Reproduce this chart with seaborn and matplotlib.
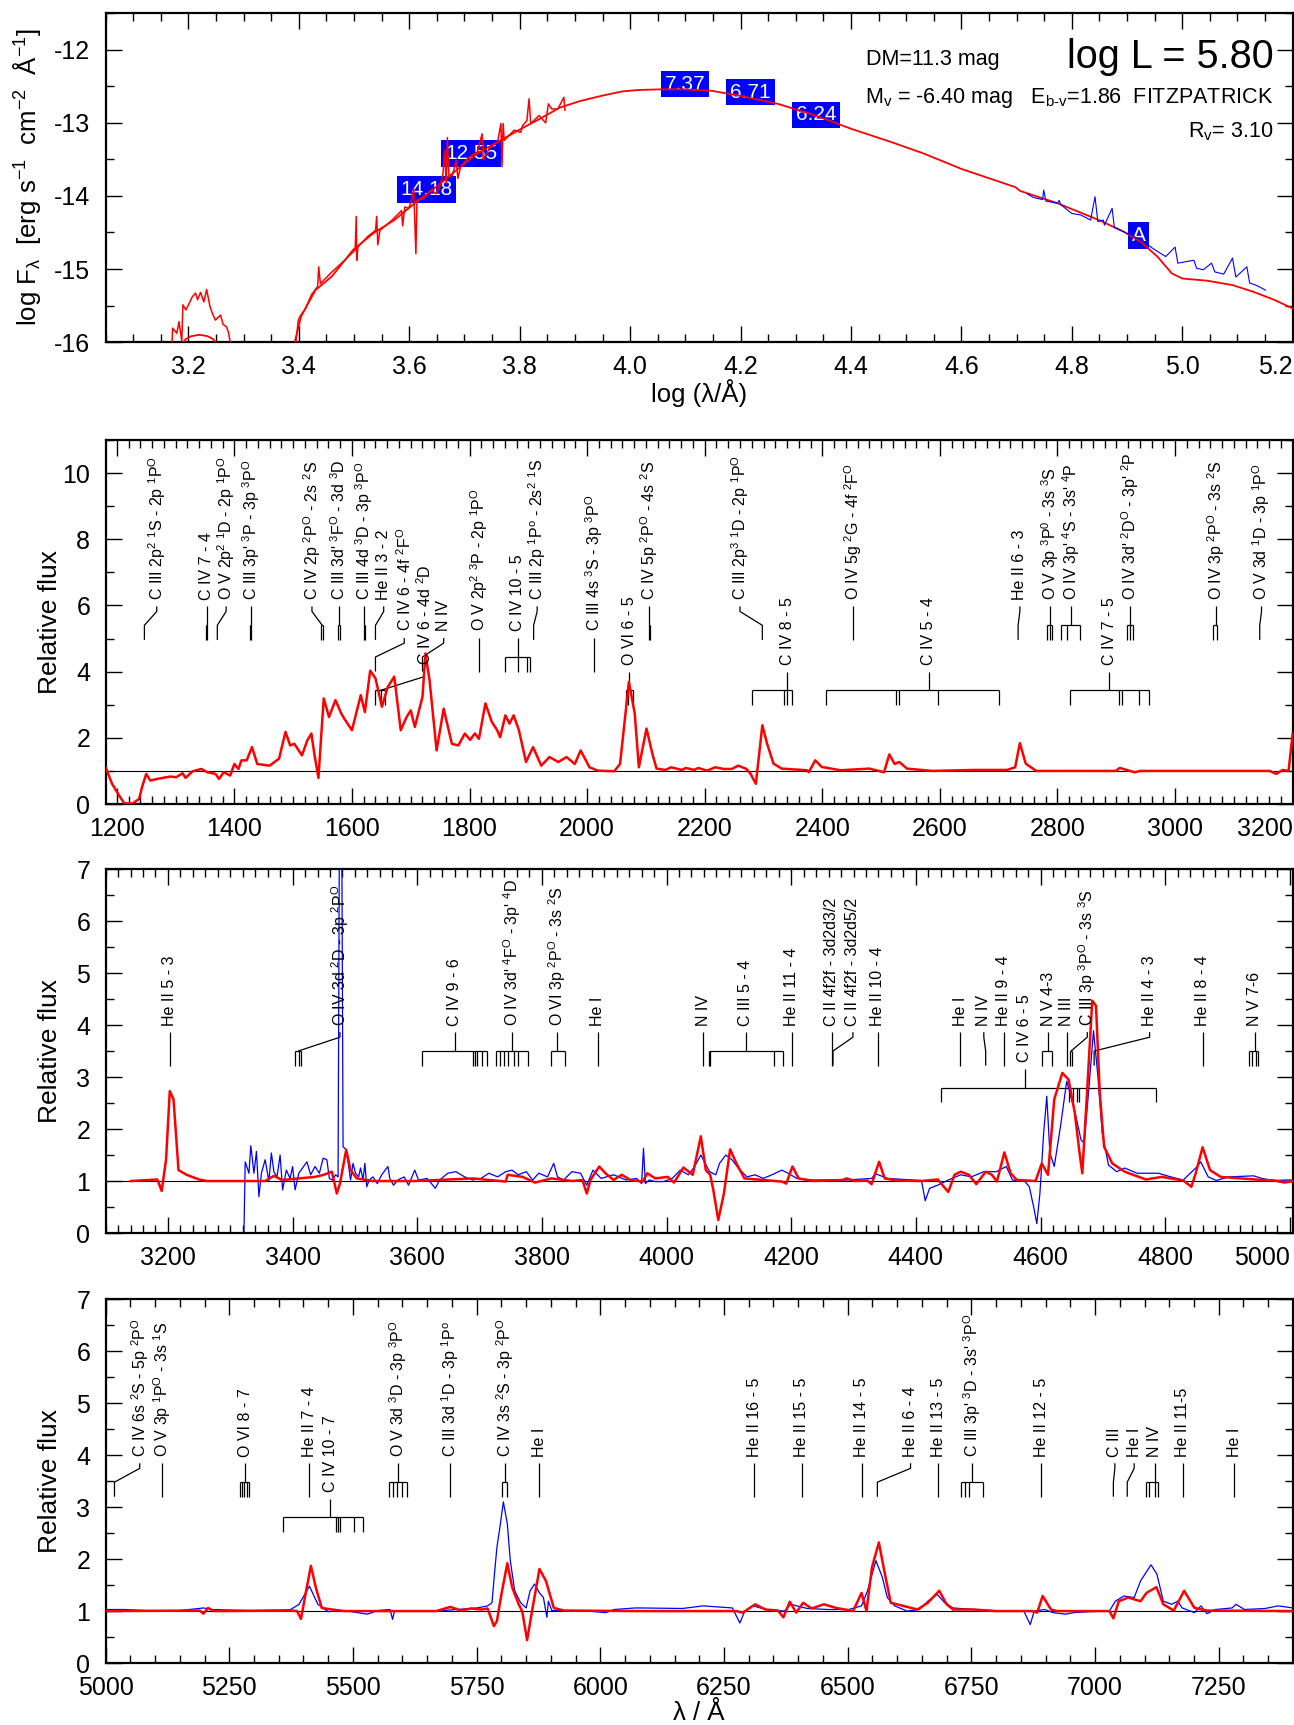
import matplotlib
matplotlib.use("Agg")
import matplotlib.pyplot as plt
import matplotlib.font_manager as fm
from matplotlib.ticker import MultipleLocator, FixedLocator
import seaborn as sns

# ---------------- SED panel (log lambda / log F_lambda) ----------------
sed_model_logw = [3.391, 3.404, 3.430, 3.460, 3.498, 3.535, 3.573, 3.610, 3.648, 3.685,
                  3.723, 3.760, 3.798, 3.835, 3.873, 3.910, 3.948, 3.985, 4.015, 4.060,
                  4.094, 4.147, 4.200, 4.268, 4.336, 4.400, 4.472, 4.532, 4.600, 4.698,
                  4.706, 4.774, 4.849, 4.894, 4.925, 4.955, 4.981, 5.000, 5.045, 5.091,
                  5.128, 5.166, 5.200]
sed_model_logf = [-16.05, -15.65, -15.29, -15.10, -14.74, -14.51, -14.33, -14.10, -13.88, -13.65,
                  -13.42, -13.26, -13.10, -12.95, -12.79, -12.70, -12.63, -12.57, -12.55, -12.54,
                  -12.54, -12.56, -12.63, -12.74, -12.90, -13.08, -13.26, -13.42, -13.63, -13.88,
                  -13.93, -14.10, -14.33, -14.49, -14.63, -14.83, -15.06, -15.13, -15.16, -15.22,
                  -15.31, -15.42, -15.54]

sed_uvmodel_logw = [3.183, 3.195, 3.205, 3.220, 3.235, 3.245, 3.257]
sed_uvmodel_logf = [-16.10, -15.96, -15.92, -15.90, -15.92, -15.96, -16.10]

sed_iue_logw = [3.170, 3.1715, 3.179, 3.183, 3.188, 3.190, 3.1955, 3.2015, 3.207, 3.213,
                3.2165, 3.222, 3.228, 3.233, 3.239, 3.243, 3.249, 3.258, 3.263, 3.269,
                3.273, 3.2765]
sed_iue_logf = [-16.05, -15.81, -15.88, -15.72, -15.99, -15.49, -15.56, -15.47, -15.38, -15.33,
                -15.42, -15.32, -15.45, -15.28, -15.51, -15.60, -15.70, -15.63, -15.76, -15.79,
                -15.88, -16.05]

sed_opt_logw = [3.394, 3.399, 3.402, 3.412, 3.423, 3.434, 3.436, 3.439, 3.460, 3.483,
                3.502, 3.504, 3.505, 3.507, 3.524, 3.539, 3.541, 3.543, 3.547, 3.569,
                3.586, 3.588, 3.592, 3.599, 3.604, 3.608, 3.612, 3.614, 3.625, 3.640,
                3.648, 3.655, 3.661, 3.664, 3.667, 3.669, 3.672, 3.678, 3.685, 3.688,
                3.693, 3.708, 3.723, 3.732, 3.734, 3.745, 3.760, 3.766, 3.768, 3.770,
                3.772, 3.790, 3.802, 3.805, 3.813, 3.817, 3.820, 3.835, 3.847, 3.852,
                3.858, 3.869, 3.880, 3.882]
sed_opt_logf = [-16.05, -15.70, -15.65, -15.54, -15.35, -15.24, -14.97, -15.20, -15.04, -14.88,
                -14.74, -14.28, -14.88, -14.70, -14.56, -14.47, -14.28, -14.67, -14.47, -14.33,
                -14.20, -14.41, -14.15, -14.17, -14.06, -13.90, -14.79, -14.06, -14.04, -13.92,
                -13.97, -13.88, -13.70, -13.38, -13.83, -13.20, -13.74, -13.72, -13.51, -13.76,
                -13.60, -13.47, -13.40, -13.15, -13.51, -13.35, -13.26, -13.01, -13.60, -13.01,
                -13.24, -13.10, -13.13, -13.04, -12.97, -12.67, -13.01, -12.90, -13.00, -12.74,
                -12.81, -12.81, -12.65, -12.83]

sed_ir_logw = [4.719, 4.730, 4.747, 4.749, 4.753, 4.774, 4.777, 4.780, 4.800, 4.816,
               4.834, 4.842, 4.847, 4.857, 4.859, 4.873, 4.877, 4.894, 4.925, 4.947,
               4.970, 4.987, 4.992, 5.021, 5.026, 5.038, 5.053, 5.059, 5.075, 5.091,
               5.097, 5.117, 5.122, 5.136, 5.151]
sed_ir_logf = [-13.97, -14.02, -14.05, -13.92, -14.07, -14.10, -14.06, -14.12, -14.24, -14.26,
               -14.33, -14.01, -14.35, -14.33, -14.40, -14.17, -14.43, -14.49, -14.60, -14.72,
               -14.83, -14.70, -14.92, -14.88, -14.99, -15.01, -14.92, -15.04, -15.07, -14.85,
               -15.11, -14.97, -15.19, -15.23, -15.29]

phot_labels = ['14.18', '12.55', '7.37', '6.71', '6.24', 'A']
phot_logw = [3.631, 3.712, 4.099, 4.218, 4.337, 4.921]
phot_logf = [-13.91, -13.42, -12.47, -12.58, -12.89, -14.54]

# ---------------- UV panel ----------------
uv_wave = [1181, 1192, 1206, 1213, 1227, 1238, 1243, 1250, 1257, 1269,
           1291, 1301, 1312, 1317, 1329, 1344, 1354, 1368, 1374, 1382,
           1393, 1400, 1407, 1412, 1421, 1430, 1439, 1460, 1476, 1487,
           1495, 1502, 1515, 1524, 1531, 1536, 1543, 1552, 1561, 1572,
           1582, 1587, 1600, 1615, 1622, 1631, 1640, 1651, 1661, 1672,
           1683, 1693, 1700, 1707, 1720, 1725, 1732, 1744, 1756, 1770,
           1781, 1792, 1801, 1809, 1816, 1827, 1838, 1847, 1852, 1861,
           1868, 1875, 1884, 1896, 1908, 1922, 1936, 1951, 1965, 1979,
           1989, 2004, 2018, 2046, 2056, 2071, 2081, 2088, 2101, 2111,
           2118, 2133, 2143, 2161, 2168, 2182, 2189, 2204, 2218, 2232,
           2246, 2257, 2271, 2278, 2287, 2298, 2306, 2317, 2331, 2374,
           2377, 2388, 2399, 2431, 2480, 2505, 2514, 2523, 2531, 2544,
           2587, 2658, 2714, 2728, 2736, 2746, 2764, 2899, 2906, 2931,
           2941, 3161, 3172, 3183, 3193, 3200]
uv_flux = [1.11, 0.61, 0.20, 0.02, 0.02, 0.15, 0.51, 0.91, 0.71, 0.76,
           0.83, 0.81, 0.93, 0.79, 0.99, 1.06, 0.96, 0.91, 0.76, 0.96,
           0.86, 1.21, 1.06, 1.32, 1.32, 1.72, 1.21, 1.16, 1.37, 2.18,
           1.77, 1.82, 1.47, 1.92, 2.13, 1.52, 0.79, 3.19, 2.63, 3.14,
           2.73, 2.58, 2.23, 3.29, 2.78, 4.03, 3.80, 2.94, 3.54, 3.85,
           2.23, 2.63, 2.83, 2.33, 3.24, 4.55, 3.74, 1.62, 2.88, 1.82,
           1.77, 2.13, 1.94, 2.13, 1.97, 3.04, 2.48, 2.23, 2.02, 2.68,
           2.43, 2.68, 2.23, 1.27, 1.72, 1.16, 1.42, 1.27, 1.42, 1.21,
           1.62, 1.11, 1.01, 0.99, 1.21, 3.69, 2.73, 1.11, 2.28, 1.52,
           1.07, 1.03, 1.11, 1.03, 1.09, 1.03, 1.09, 1.01, 1.11, 1.06,
           1.06, 1.16, 1.06, 0.91, 0.61, 2.38, 1.83, 1.22, 1.07, 1.02,
           0.96, 1.32, 1.12, 1.02, 1.07, 0.96, 1.50, 1.21, 1.27, 1.07,
           1.00, 1.03, 1.03, 1.11, 1.84, 1.22, 1.00, 1.00, 1.09, 0.96,
           1.00, 1.00, 0.91, 1.03, 1.00, 2.13]

uv_id_labels = [r'C III 2p$^2$ $^1$S - 2p $^1$P$^O$', 'C IV 7 - 4', r'O V 2p$^2$ $^1$D - 2p $^1$P$^O$',
                r"C III 3p' $^3$P - 3p $^3$P$^O$", r'C IV 2p $^2$P$^O$ - 2s $^2$S',
                r"C III 3d' $^3$F$^O$ - 3d $^3$D", r'C III 4d $^3$D - 3p $^3$P$^O$', 'He II 3 - 2',
                r'C IV 6 - 4f $^2$F$^O$', r'C IV 6 - 4d $^2$D', 'N IV', r'O V 2p$^2$ $^3$P - 2p $^1$P$^O$',
                'C IV 10 - 5', r'C III 2p $^1$P$^o$ - 2s$^2$ $^1$S', r'C III 4s $^3$S - 3p $^3$P$^O$',
                'O VI 6 - 5', r'C IV 5p $^2$P$^O$ - 4s $^2$S', r'C III 2p$^3$ $^1$D - 2p $^1$P$^O$',
                'C IV 8 - 5', r'O IV 5g $^2$G - 4f $^2$F$^O$', 'C IV 5 - 4', 'He II 6 - 3',
                r'O V 3p $^3$P$^0$ - 3s $^3$S', r"O IV 3p' $^4$S - 3s' $^4$P", 'C IV 7 - 5',
                r"O IV 3d' $^2$D$^O$ - 3p' $^2$P", r'O IV 3p $^2$P$^O$ - 3s $^2$S',
                r'O V 3d $^1$D - 3p $^1$P$^O$']
uv_id_xtext = [1268, 1353, 1386, 1428, 1532, 1578, 1621, 1654, 1689, 1723, 1756, 1816, 1882, 1915,
               2012, 2072, 2106, 2260, 2340, 2452, 2581, 2736, 2787, 2823, 2888, 2924, 3070, 3147]
uv_id_waves = [[1247], [1351, 1353], [1371], [1427, 1429], [1548, 1551], [1577, 1579], [1620, 1622],
               [1640], [1640], [1640, 1650, 1656], [1720], [1816], [1861, 1882, 1898, 1903], [1909],
               [2012], [2066, 2070, 2078], [2105, 2107], [2298], [2280, 2335, 2340, 2349], [2452],
               [2406, 2525, 2530, 2596, 2700], [2733], [2782, 2787, 2791], [2806, 2817, 2838],
               [2821, 2905, 2910, 2939, 2955], [2919, 2924, 2928], [3064, 3072], [3144]]
uv_id_rows = [0, 0, 0, 0, 0, 0, 0, 0, 1, 2, 1, 1, 1, 0, 1, 2, 0, 0, 2, 0, 2, 0, 0, 0, 2, 0, 0, 0]

# ---------------- optical panel 1 ----------------
op1_wave = [3140, 3183, 3190, 3197, 3203, 3209, 3217, 3230, 3250, 3263,
            3356, 3370, 3383, 3436, 3450, 3463, 3471, 3476, 3486, 3493,
            3503, 3529, 3596, 3689, 3742, 3745, 3769, 3789, 3815, 3849,
            3865, 3872, 3878, 3892, 3902, 3915, 3928, 3942, 3962, 3969,
            3982, 4002, 4012, 4027, 4042, 4055, 4063, 4070, 4075, 4083,
            4092, 4102, 4112, 4125, 4155, 4185, 4192, 4202, 4212, 4235,
            4282, 4289, 4302, 4322, 4329, 4341, 4350, 4369, 4409, 4435,
            4452, 4462, 4472, 4485, 4497, 4512, 4522, 4530, 4542, 4552,
            4562, 4592, 4602, 4612, 4622, 4635, 4645, 4655, 4662, 4667,
            4674, 4683, 4689, 4695, 4702, 4715, 4735, 4769, 4795, 4809,
            4829, 4842, 4849, 4860, 4872, 4889, 4922, 4955, 4975, 4992,
            5005]
op1_model = [1.00, 1.03, 0.81, 1.41, 2.73, 2.57, 1.21, 1.12, 1.03, 1.00,
             1.00, 1.10, 1.02, 1.08, 1.12, 1.18, 0.76, 0.95, 1.60, 1.21,
             1.05, 1.00, 1.00, 1.05, 0.99, 1.12, 1.08, 0.97, 1.05, 1.00,
             1.02, 0.76, 1.02, 1.28, 1.15, 1.02, 1.12, 1.02, 0.99, 1.15,
             1.05, 1.08, 0.97, 1.26, 1.12, 1.86, 1.21, 1.12, 0.83, 0.25,
             0.76, 1.61, 1.34, 1.05, 1.02, 0.99, 0.95, 1.28, 1.05, 1.00,
             1.02, 1.05, 1.00, 1.01, 0.94, 1.37, 1.05, 1.01, 1.00, 1.03,
             0.79, 1.12, 1.18, 1.12, 0.94, 1.18, 1.12, 0.99, 1.55, 1.15,
             1.02, 1.00, 1.34, 1.12, 2.57, 3.08, 2.95, 2.31, 1.60, 1.15,
             2.57, 4.47, 4.37, 2.70, 1.66, 1.34, 1.18, 1.03, 1.08, 1.05,
             1.01, 0.89, 1.15, 1.65, 1.21, 1.08, 1.05, 1.02, 1.01, 0.97,
             1.00]
op1_obs_wave = [3322, 3324, 3330, 3333, 3338, 3342, 3346, 3350, 3356, 3362,
                3366, 3370, 3375, 3380, 3384, 3390, 3396, 3400, 3404, 3410,
                3416, 3423, 3429, 3436, 3443, 3449, 3455, 3459, 3464, 3469,
                3473, 3475, 3479, 3481, 3486, 3489, 3493, 3497, 3501, 3506,
                3509, 3513, 3516, 3519, 3523, 3529, 3536, 3543, 3553, 3556,
                3562, 3569, 3579, 3586, 3596, 3602, 3616, 3629, 3636, 3649,
                3662, 3676, 3689, 3702, 3715, 3729, 3742, 3752, 3762, 3775,
                3785, 3795, 3809, 3819, 3825, 3835, 3848, 3862, 3872, 3882,
                3895, 3915, 3935, 3952, 3960, 3963, 3966, 3972, 3982, 3995,
                4009, 4022, 4035, 4045, 4055, 4069, 4079, 4085, 4095, 4105,
                4115, 4129, 4142, 4155, 4169, 4185, 4195, 4209, 4235, 4289,
                4329, 4335, 4355, 4382, 4409, 4415, 4422, 4435, 4452, 4472,
                4489, 4509, 4529, 4545, 4555, 4575, 4582, 4589, 4594, 4599,
                4605, 4610, 4615, 4622, 4632, 4642, 4655, 4665, 4670, 4677,
                4685, 4692, 4699, 4709, 4722, 4735, 4755, 4789, 4809, 4829,
                4849, 4857, 4869, 4882, 4902, 4942, 4955, 4975, 4995, 5005]
op1_obs = [0.02, 1.37, 1.15, 1.68, 1.15, 1.57, 0.70, 1.15, 1.41, 0.99,
           1.54, 1.18, 1.08, 1.50, 0.83, 1.21, 1.05, 1.28, 0.83, 1.15,
           1.25, 1.37, 1.12, 1.28, 1.15, 1.44, 1.41, 1.05, 1.02, 1.12,
           1.08, 7.50, 7.50, 1.66, 1.60, 1.37, 1.02, 1.34, 1.15, 1.08,
           1.25, 1.02, 1.34, 0.89, 1.02, 1.08, 0.95, 1.12, 1.28, 1.05,
           0.92, 1.02, 1.08, 0.92, 1.21, 1.02, 1.05, 0.86, 1.02, 1.15,
           1.18, 1.08, 1.02, 1.05, 1.15, 1.08, 1.18, 1.21, 1.12, 1.18,
           1.02, 1.15, 1.08, 1.34, 1.08, 1.02, 1.18, 1.15, 0.92, 1.21,
           1.05, 1.12, 1.02, 1.05, 0.95, 1.63, 0.95, 1.02, 0.99, 0.99,
           1.05, 1.21, 1.12, 1.28, 1.50, 1.18, 1.12, 1.34, 1.50, 1.41,
           1.25, 1.08, 1.12, 1.05, 1.12, 1.21, 1.15, 1.05, 1.02, 1.02,
           1.05, 1.14, 1.05, 1.03, 1.01, 0.62, 0.86, 0.92, 1.02, 1.12,
           1.08, 1.18, 1.18, 1.28, 1.02, 0.99, 0.89, 0.50, 0.18, 0.76,
           1.92, 2.63, 1.54, 1.28, 2.05, 2.92, 2.34, 1.79, 1.73, 2.70,
           3.89, 3.02, 1.92, 1.31, 1.18, 1.25, 1.15, 1.15, 1.08, 1.02,
           1.25, 1.37, 1.08, 1.01, 1.08, 1.10, 1.05, 1.01, 1.02, 1.02]

op1_id_labels = ['He II 5 - 3', r'O IV 3d $^2$D - 3p $^2$P$^O$', 'C IV 9 - 6',
                 r"O IV 3d' $^4$F$^O$ - 3p' $^4$D", r'O VI 3p $^2$P$^O$ - 3s $^2$S', 'He I', 'N IV',
                 'C III 5 - 4', 'He II 11 - 4', 'C II 4f2f - 3d2d3/2', 'C II 4f2f - 3d2d5/2',
                 'He II 10 - 4', 'He I', 'N IV', 'He II 9 - 4', 'C IV 6 - 5', 'N V 4-3', 'N III',
                 r'C III 3p $^3$P$^O$ - 3s $^3$S', 'He II 4 - 3', 'He II 8 - 4', 'N V 7-6']
op1_id_xtext = [3203, 3476, 3660, 3752, 3825, 3890, 4059, 4127, 4201, 4265, 4299,
                4339, 4471, 4509, 4541, 4575, 4612, 4642, 4675, 4775, 4860, 4944]
op1_id_waves = [[3203], [3404, 3411, 3414], [3608, 3689, 3692, 3696, 3704, 3712],
                [3727, 3732, 3739, 3745, 3755, 3761, 3777], [3814, 3837], [3889], [4058],
                [4068, 4070, 4173, 4187], [4200], [4267], [4267], [4339], [4471], [4512], [4541],
                [4440, 4646, 4652, 4658, 4662, 4785], [4603, 4619], [4640], [4647, 4651], [4686],
                [4859], [4935, 4940, 4945, 4949]]
op1_id_rows = [0, 0, 0, 0, 0, 0, 0, 0, 0, 0, 0, 0, 0, 0, 0, 1, 0, 0, 0, 0, 0, 0]

# ---------------- optical panel 2 ----------------
op2_wave = [5000, 5190, 5198, 5207, 5219, 5374, 5387, 5395, 5404, 5415,
            5425, 5437, 5458, 5483, 5668, 5697, 5718, 5739, 5760, 5772,
            5785, 5791, 5800, 5812, 5822, 5835, 5842, 5852, 5862, 5877,
            5890, 5906, 5927, 6082, 6275, 6288, 6313, 6334, 6359, 6370,
            6383, 6396, 6410, 6427, 6452, 6477, 6511, 6528, 6538, 6549,
            6563, 6574, 6587, 6612, 6641, 6662, 6685, 6700, 6713, 6755,
            6797, 6873, 6883, 6894, 6911, 6923, 7029, 7037, 7048, 7067,
            7092, 7104, 7124, 7138, 7159, 7180, 7201, 7226, 7400]
op2_model = [1.00, 1.01, 0.95, 1.06, 1.00, 1.01, 1.00, 0.85, 1.32, 1.87,
             1.45, 1.06, 1.03, 1.00, 1.00, 1.08, 1.01, 1.05, 1.03, 1.05,
             0.71, 0.81, 1.32, 1.92, 1.45, 1.13, 1.00, 0.44, 1.00, 1.81,
             1.58, 1.06, 1.01, 1.00, 1.00, 0.97, 1.13, 1.03, 1.01, 0.88,
             1.18, 0.97, 1.16, 1.05, 1.13, 1.06, 1.00, 1.35, 1.00, 1.84,
             2.32, 1.77, 1.16, 1.10, 1.03, 1.16, 1.39, 1.13, 1.03, 1.03,
             1.00, 1.00, 0.97, 1.29, 1.03, 1.00, 1.00, 0.86, 1.19, 1.26,
             1.19, 1.35, 1.46, 1.13, 1.01, 1.39, 1.06, 1.01, 1.00]
op2_obs_wave = [5000, 5039, 5081, 5140, 5198, 5215, 5291, 5358, 5374, 5391,
                5412, 5429, 5450, 5483, 5529, 5550, 5575, 5580, 5584, 5626,
                5668, 5709, 5751, 5772, 5781, 5786, 5791, 5797, 5804, 5812,
                5818, 5827, 5839, 5850, 5858, 5867, 5877, 5885, 5892, 5895,
                5902, 5961, 6011, 6028, 6070, 6082, 6166, 6208, 6267, 6282,
                6292, 6309, 6334, 6372, 6385, 6418, 6460, 6502, 6528, 6540,
                6557, 6570, 6580, 6595, 6620, 6645, 6662, 6681, 6696, 6713,
                6755, 6797, 6856, 6869, 6877, 6898, 6915, 6940, 6957, 6991,
                7029, 7041, 7058, 7079, 7092, 7113, 7125, 7138, 7155, 7167,
                7176, 7201, 7214, 7226, 7243, 7277, 7285, 7302, 7344, 7370,
                7400]
op2_obs = [1.03, 1.03, 1.01, 1.00, 1.06, 1.03, 1.01, 1.02, 1.03, 1.13,
           1.48, 1.13, 0.99, 1.01, 0.94, 1.01, 1.03, 0.84, 1.00, 1.01,
           1.00, 1.03, 1.06, 1.10, 1.16, 1.71, 2.23, 2.61, 3.10, 2.68,
           1.97, 1.39, 1.16, 1.06, 1.39, 1.52, 1.35, 1.26, 0.88, 1.19,
           1.01, 1.01, 0.97, 1.03, 1.06, 1.06, 1.05, 1.10, 1.06, 0.77,
           1.00, 1.10, 1.03, 1.00, 1.13, 1.05, 1.03, 1.03, 1.10, 1.39,
           1.97, 1.65, 1.26, 1.10, 1.00, 1.03, 1.19, 1.32, 1.16, 1.06,
           1.03, 1.01, 1.00, 0.74, 1.00, 1.03, 0.97, 0.94, 0.97, 0.99,
           1.00, 1.19, 1.29, 1.26, 1.58, 1.89, 1.71, 1.19, 1.13, 1.19,
           1.06, 0.97, 1.10, 0.95, 1.03, 1.06, 1.13, 1.03, 1.05, 1.10,
           1.06]

op2_id_labels = [r'C IV 6s $^2$S - 5p $^2$P$^O$', r'O V 3p $^1$P$^O$ - 3s $^1$S', 'O VI 8 - 7',
                 'He II 7 - 4', 'C IV 10 - 7', r'O V 3d $^3$D - 3p $^3$P$^O$',
                 r'C III 3d $^1$D - 3p $^1$P$^o$', r'C IV 3s $^2$S - 3p $^2$P$^O$', 'He I',
                 'He II 16 - 5', 'He II 15 - 5', 'He II 14 - 5', 'He II 6 - 4', 'He II 13 - 5',
                 r"C III 3p' $^3$D - 3s' $^3$P$^O$", 'He II 12 - 5', 'C III', 'He I', 'N IV',
                 'He II 11-5', 'He I']
op2_id_xtext = [5069, 5115, 5282, 5412, 5454, 5592, 5697, 5808, 5877, 6311, 6407,
                6528, 6627, 6683, 6751, 6891, 7040, 7079, 7121, 7177, 7281]
op2_id_waves = [[5018], [5114], [5272, 5276, 5280, 5286, 5290], [5412],
                [5358, 5466, 5470, 5474, 5503, 5521], [5573, 5580, 5590, 5600, 5609], [5696],
                [5801, 5812], [5876], [6311], [6406], [6527], [6560], [6683],
                [6730, 6737, 6745, 6774], [6891], [7037], [7065], [7103, 7110, 7122, 7128],
                [7177], [7281]]
op2_id_rows = [0, 0, 0, 0, 1, 0, 0, 0, 0, 0, 0, 0, 0, 0, 0, 0, 0, 0, 0, 0, 0]

# ---------------- style ----------------
sns.set_theme(style="ticks", rc={"axes.edgecolor": "black", "xtick.color": "black",
                                 "ytick.color": "black", "text.color": "black",
                                 "axes.labelcolor": "black"})
plt.rcParams['font.family'] = ['Liberation Sans', 'DejaVu Sans']
plt.rcParams['mathtext.fontset'] = 'custom'
plt.rcParams['mathtext.rm'] = 'Liberation Sans'
plt.rcParams['mathtext.it'] = 'Liberation Sans:italic'
plt.rcParams['mathtext.bf'] = 'Liberation Sans:bold'
plt.rcParams['mathtext.default'] = 'regular'
plt.rcParams['axes.unicode_minus'] = False

names = {f.name for f in fm.fontManager.ttflist}
if 'Liberation Sans Narrow' in names:
    id_font = dict(family='Liberation Sans Narrow', fontsize=13.5)
    info_font = dict(family='Liberation Sans Narrow', fontsize=19)
else:
    id_font = dict(fontsize=11.5)
    info_font = dict(fontsize=15.5)

RED = '#ff0000'
BLUE = '#0000ff'


def spec(ax, x, y, color, lw, z):
    sns.lineplot(x=x, y=y, ax=ax, color=color, linewidth=lw, sort=False,
                 estimator=None, zorder=z, legend=False)


def style_axes(ax, xlim, ylim, xticks, xlabels, xminor, ymajor, yminor, right_last=False):
    ax.set_xlim(xlim)
    ax.set_ylim(ylim)
    ax.xaxis.set_major_locator(FixedLocator(xticks))
    ax.set_xticklabels(xlabels)
    ax.xaxis.set_minor_locator(MultipleLocator(xminor))
    ax.yaxis.set_major_locator(MultipleLocator(ymajor))
    ax.yaxis.set_minor_locator(MultipleLocator(yminor))
    ax.tick_params(which='both', direction='in', top=True, right=True, width=1.0, labelsize=18)
    ax.tick_params(which='major', length=11.5)
    ax.tick_params(which='minor', length=5.8)
    ax.tick_params(axis='x', pad=9)
    ax.tick_params(axis='y', pad=11)
    for s in ax.spines.values():
        s.set_linewidth(1.6)
    ax.set_xlabel('')
    ax.set_ylabel('')
    if right_last:
        ax.get_xticklabels()[-1].set_horizontalalignment('right')


def draw_ids(ax, labels, xtext, waves, rows, row_y):
    h = ax.get_ylim()[1]
    kw = dict(color='black', lw=0.9, zorder=2, solid_capstyle='butt')
    for lab, xt, ws, r in zip(labels, xtext, waves, rows):
        yt = row_y[r] * h
        top = yt - 0.018 * h
        knee = top - 0.014 * h
        bar = top - 0.052 * h
        bot = top - 0.092 * h
        ax.text(xt, yt, lab, rotation=90, ha='center', va='bottom', zorder=4, **id_font)
        lo, hi = min(ws), max(ws)
        if len(ws) == 1:
            if abs(ws[0] - xt) < 3:
                ax.plot([xt, xt], [top, bot], **kw)
            else:
                ax.plot([xt, xt, ws[0], ws[0]], [top, knee, bar, bot], **kw)
        else:
            if lo <= xt <= hi:
                ax.plot([xt, xt], [top, bar], **kw)
            else:
                ax.plot([xt, xt, 0.5 * (lo + hi)], [top, knee, bar], **kw)
            ax.plot([lo, hi], [bar, bar], **kw)
            for w in ws:
                ax.plot([w, w], [bar, bot], **kw)


fig = plt.figure(figsize=(12.94, 17.25), dpi=100)
L, W = 0.0816, 0.9176
ax1 = fig.add_axes([L, 0.8017, W, 0.1906])
ax2 = fig.add_axes([L, 0.5339, W, 0.2110])
ax3 = fig.add_axes([L, 0.2852, W, 0.2110])
ax4 = fig.add_axes([L, 0.0359, W, 0.2110])

# ---- SED ----
spec(ax1, sed_model_logw, sed_model_logf, RED, 1.3, 3)
spec(ax1, sed_uvmodel_logw, sed_uvmodel_logf, RED, 1.3, 3)
spec(ax1, sed_iue_logw, sed_iue_logf, RED, 1.1, 3)
spec(ax1, sed_opt_logw, sed_opt_logf, RED, 1.1, 3)
spec(ax1, sed_ir_logw, sed_ir_logf, BLUE, 0.8, 3)
for lab, x, y in zip(phot_labels, phot_logw, phot_logf):
    ax1.text(x, y, lab, ha='center', va='center', color='white', fontsize=15, zorder=2,
             bbox=dict(boxstyle='square,pad=0.18', fc=BLUE, ec='none'))
t1 = [3.2, 3.4, 3.6, 3.8, 4.0, 4.2, 4.4, 4.6, 4.8, 5.0, 5.2]
style_axes(ax1, (3.05, 5.2005), (-16, -11.5), t1, [f'{v:.1f}' for v in t1], 0.05, 1, 0.5,
           right_last=True)
ax1.text(0.9835, 0.833, 'log L = 5.80', transform=ax1.transAxes, ha='right', va='baseline',
         fontsize=28.5)
ax1.text(0.64, 0.842, 'DM=11.3 mag', transform=ax1.transAxes, ha='left', va='baseline',
         **info_font)
ax1.text(0.9835, 0.727, 'M$_v$ = -6.40 mag   E$_{b\u2010v}$=1.86  FITZPATRICK',
         transform=ax1.transAxes, ha='right', va='baseline', **info_font)
ax1.text(0.9835, 0.624, 'R$_v$= 3.10', transform=ax1.transAxes, ha='right', va='baseline',
         **info_font)
fig.text(0.54, 1 - 393 / 1725, 'log (λ/Å)', ha='center', va='center', fontsize=18.5)
fig.text(27.5 / 1294, 1 - 177 / 1725, r'log F$_\lambda$  [erg s$^{-1}$  cm$^{-2}$  Å$^{-1}$]',
         rotation=90, ha='center', va='center', fontsize=18.5)

# ---- UV ----
ax2.axhline(1, color='black', lw=0.8, zorder=1.5)
spec(ax2, uv_wave, uv_flux, RED, 1.8, 3.5)
t2 = list(range(1200, 3201, 200))
style_axes(ax2, (1181, 3200.5), (0, 11), t2, [str(v) for v in t2], 20, 2, 1, right_last=True)
draw_ids(ax2, uv_id_labels, uv_id_xtext, uv_id_waves, uv_id_rows, [0.561, 0.474, 0.382])

# ---- optical 1 ----
ax3.axhline(1, color='black', lw=0.8, zorder=1.5)
spec(ax3, op1_obs_wave, op1_obs, BLUE, 0.9, 3)
spec(ax3, op1_wave, op1_model, RED, 1.8, 3.5)
t3 = list(range(3200, 5001, 200))
style_axes(ax3, (3100, 5005), (0, 7), t3, [str(v) for v in t3], 20, 1, 0.5, right_last=True)
draw_ids(ax3, op1_id_labels, op1_id_xtext, op1_id_waves, op1_id_rows, [0.570, 0.469])

# ---- optical 2 ----
ax4.axhline(1, color='black', lw=0.8, zorder=1.5)
spec(ax4, op2_obs_wave, op2_obs, BLUE, 0.9, 3)
spec(ax4, op2_wave, op2_model, RED, 1.8, 3.5)
t4 = list(range(5000, 7251, 250))
style_axes(ax4, (5000, 7400), (0, 7), t4, [str(v) for v in t4], 50, 1, 0.5)
draw_ids(ax4, op2_id_labels, op2_id_xtext, op2_id_waves, op2_id_rows, [0.567, 0.470])
fig.text(0.54, 1 - 1713 / 1725, 'λ / Å', ha='center', va='center', fontsize=18.5)

for ax in (ax2, ax3, ax4):
    pos = ax.get_position()
    fig.text(50 / 1294, pos.y0 + pos.height / 2, 'Relative flux', rotation=90,
             ha='center', va='center', fontsize=19)

fig.savefig('out.png', dpi=100)
